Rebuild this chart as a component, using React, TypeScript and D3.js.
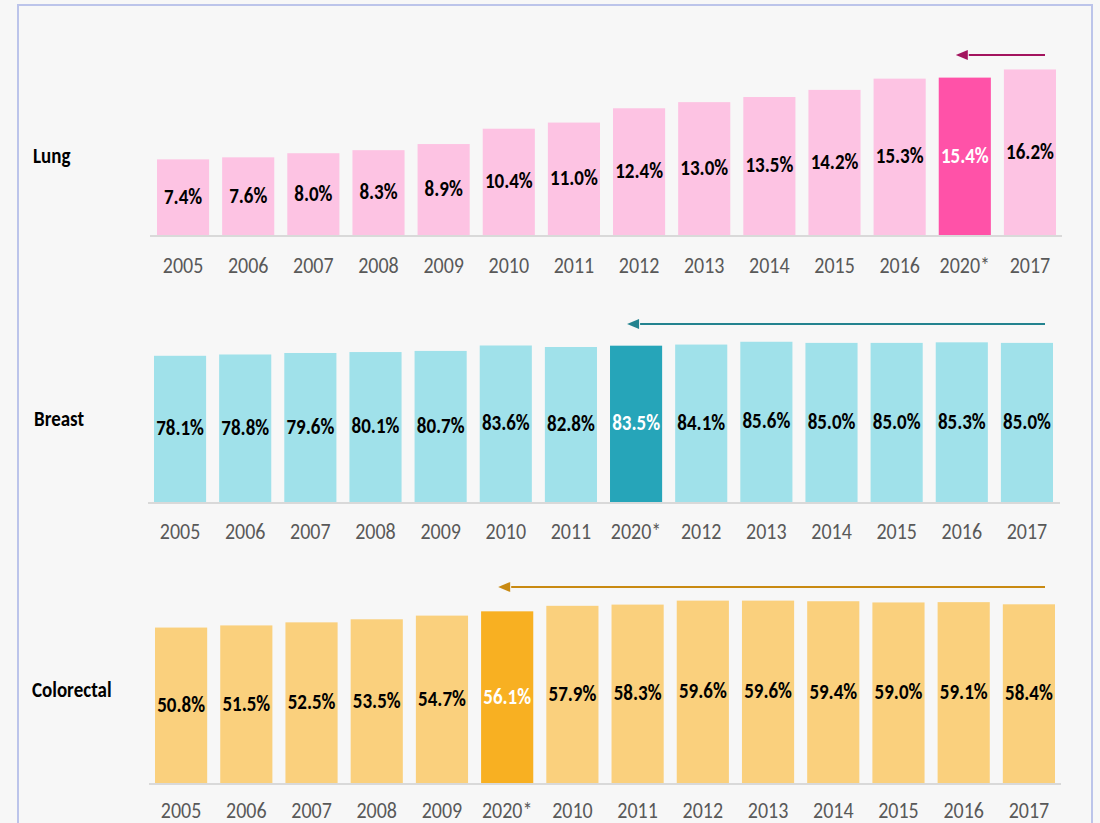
import React from "react";
import * as d3 from "d3";

const lungYears = ["2005","2006","2007","2008","2009","2010","2011","2012","2013","2014","2015","2016","2020*","2017"];
const lungValues = [7.4,7.6,8.0,8.3,8.9,10.4,11.0,12.4,13.0,13.5,14.2,15.3,15.4,16.2];
const breastYears = ["2005","2006","2007","2008","2009","2010","2011","2020*","2012","2013","2014","2015","2016","2017"];
const breastValues = [78.1,78.8,79.6,80.1,80.7,83.6,82.8,83.5,84.1,85.6,85.0,85.0,85.3,85.0];
const colorectalYears = ["2005","2006","2007","2008","2009","2020*","2010","2011","2012","2013","2014","2015","2016","2017"];
const colorectalValues = [50.8,51.5,52.5,53.5,54.7,56.1,57.9,58.3,59.6,59.6,59.4,59.0,59.1,58.4];

const FONT = "Carlito, Lato, 'Open Sans', sans-serif";

interface PanelCfg {
  name: string;
  years: string[];
  values: number[];
  baseline: number;
  pxPerUnit: number;
  x0: number;
  x1: number;
  light: string;
  dark: string;
  arrow: string;
  arrowY: number;
  labelX: number;
  labelY: number;
  axisX0: number;
  axisX1: number;
  yearDy: number;
}

const panels: PanelCfg[] = [
  { name: "Lung", years: lungYears, values: lungValues, baseline: 235, pxPerUnit: 10.22, x0: 157, x1: 1056,
    light: "#fdc3e3", dark: "#ff52a8", arrow: "#a3145e", arrowY: 55, labelX: 33, labelY: 158, axisX0: 150, axisX1: 1062, yearDy: 32 },
  { name: "Breast", years: breastYears, values: breastValues, baseline: 502, pxPerUnit: 1.872, x0: 154, x1: 1053,
    light: "#a0e1ea", dark: "#26a5b9", arrow: "#23838f", arrowY: 324, labelX: 34, labelY: 421, axisX0: 148, axisX1: 1060, yearDy: 31 },
  { name: "Colorectal", years: colorectalYears, values: colorectalValues, baseline: 783, pxPerUnit: 3.06, x0: 155, x1: 1055,
    light: "#fad07d", dark: "#f8b022", arrow: "#c98a12", arrowY: 587, labelX: 32, labelY: 692, axisX0: 149, axisX1: 1061, yearDy: 29 },
];

function T({ x, y, children, ...rest }: any) {
  return (
    <text transform={`translate(${x},${y}) scale(1,1.17)`} dominantBaseline="middle" fontFamily={FONT} {...rest}>{children}</text>
  );
}

function Panel({ p }: { p: PanelCfg }) {
  const x = d3.scaleBand<string>().domain(p.years.map((y, i) => i + "")).range([p.x0, p.x1]).paddingInner(0.2).paddingOuter(0);
  const y = d3.scaleLinear().domain([0, 100]).range([p.baseline, p.baseline - 100 * p.pxPerUnit]);
  const hi = p.years.indexOf("2020*");
  const hiX = (x(hi + "") as number) + x.bandwidth() / 2;
  return (
    <g>
      <T x={p.labelX} y={p.labelY} fontWeight="bold" fontSize={19} fill="#000">{p.name}</T>
      {p.values.map((v, i) => {
        const bx = x(i + "") as number;
        const top = y(v);
        const isHi = i === hi;
        return (
          <g key={i}>
            <rect x={bx} y={top} width={x.bandwidth()} height={p.baseline - top} fill={isHi ? p.dark : p.light} />
            <T x={bx + x.bandwidth() / 2} y={(top + p.baseline) / 2 + 1} textAnchor="middle"
              fontWeight="bold" fontSize={19} fill={isHi ? "#ffffff" : "#000000"}>{v.toFixed(1) + "%"}</T>
            <T x={bx + x.bandwidth() / 2} y={p.baseline + p.yearDy} textAnchor="middle"
              fontSize={20} fill="#595959">{p.years[i]}</T>
          </g>
        );
      })}
      <line x1={p.axisX0} x2={p.axisX1} y1={p.baseline + 1} y2={p.baseline + 1} stroke="#d9d9d9" strokeWidth={2} />
      <line x1={1045} x2={hiX + 4} y1={p.arrowY} y2={p.arrowY} stroke={p.arrow} strokeWidth={2} />
      <path d={`M${hiX - 9},${p.arrowY} L${hiX + 3},${p.arrowY - 5} L${hiX + 3},${p.arrowY + 5} Z`} fill={p.arrow} />
    </g>
  );
}

export default function App() {
  return (
    <svg width={1100} height={823} style={{ position: "absolute", left: 0, top: 0, background: "#f7f7f7" }}>
      <rect x={0} y={0} width={1100} height={823} fill="#f7f7f7" />
      <rect x={18} y={5} width={1074} height={840} fill="none" stroke="#bcc4ea" strokeWidth={2} />
      {panels.map((p) => <Panel key={p.name} p={p} />)}
    </svg>
  );
}
